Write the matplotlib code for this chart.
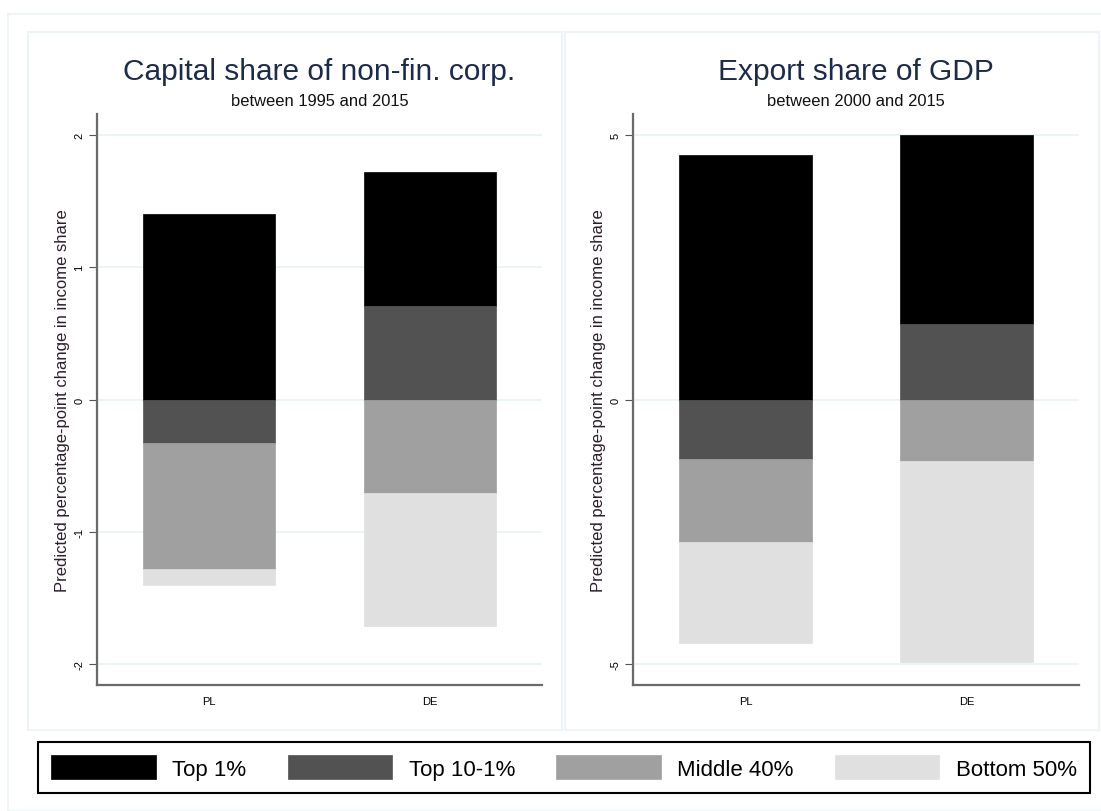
import matplotlib
matplotlib.use('Agg')
import matplotlib.pyplot as plt
from matplotlib.patches import Rectangle
import numpy as np

plt.rcParams['font.family'] = ['Liberation Sans', 'DejaVu Sans']

# datos
paises = ['PL', 'DE']
grupos = ['Top 1%', 'Top 10-1%', 'Middle 40%', 'Bottom 50%']
colores = ['#000000', '#525252', '#a0a0a0', '#e0e0e0']

capital_top1 = [1.40, 1.01]
capital_top10 = [-0.33, 0.71]
capital_middle = [-0.95, -0.71]
capital_bottom = [-0.12, -1.00]

export_top1 = [4.63, 3.59]
export_top10 = [-1.13, 1.42]
export_middle = [-1.57, -1.17]
export_bottom = [-1.91, -3.80]

paneles = [
    ('Capital share of non-fin. corp.', 'between 1995 and 2015',
     [capital_top1, capital_top10, capital_middle, capital_bottom],
     [-2, -1, 0, 1, 2], 2.16),
    ('Export share of GDP', 'between 2000 and 2015',
     [export_top1, export_top10, export_middle, export_bottom],
     [-5, 0, 5], 5.40),
]

W, H = 1101, 812
fig = plt.figure(figsize=(W / 100, H / 100), dpi=100)

def fx(px):
    return px / W

def fy(py):
    return 1 - py / H

# marcos de los paneles
fig.patches.append(Rectangle((fx(8), fy(812)), fx(1101), fy(15) - fy(812),
                             transform=fig.transFigure, fill=False,
                             edgecolor='#eef3f5', linewidth=1.5))
for x0, x1 in [(28, 562), (565, 1099)]:
    fig.patches.append(Rectangle((fx(x0), fy(731)), fx(x1 - x0), fy(33) - fy(731),
                                 transform=fig.transFigure, fill=False,
                                 edgecolor='#eef3f5', linewidth=1.5))

ejes_x = [(97, 542), (633, 1079)]
handles = []
for (titulo, sub, series, ticks, lim), (x0, x1) in zip(paneles, ejes_x):
    ax = fig.add_axes([fx(x0), fy(686), fx(x1 - x0), fy(115) - fy(686)])
    pos = np.arange(len(paises))
    n = len(series)

    # negativos se apilan hacia abajo en orden, positivos hacia arriba en orden inverso
    abajo = np.zeros(len(paises))
    bases = [None] * n
    for i in range(n):
        v = np.array(series[i])
        bases[i] = np.where(v < 0, abajo, 0.0)
        abajo = abajo + np.where(v < 0, v, 0)
    arriba = np.zeros(len(paises))
    for i in reversed(range(n)):
        v = np.array(series[i])
        bases[i] = np.where(v >= 0, arriba, bases[i])
        arriba = arriba + np.where(v >= 0, v, 0)

    handles = []
    for i in range(n):
        b = ax.bar(pos, series[i], bottom=bases[i], width=0.6, color=colores[i],
                   edgecolor=colores[i], linewidth=0.5, label=grupos[i], zorder=3)
        handles.append(b)

    ax.set_xlim(-0.51, 1.51)
    ax.set_ylim(-lim, lim)
    ax.set_xticks(pos)
    ax.set_xticklabels(paises, fontsize=8)
    ax.set_yticks(ticks)
    ax.set_yticklabels([str(t) for t in ticks], fontsize=8, rotation=90, va='center')
    ax.tick_params(axis='x', length=0, pad=8)
    ax.tick_params(axis='y', length=6, color='#555555', pad=3)
    ax.grid(axis='y', color='#eaf2f3', linewidth=1.2, zorder=0)
    ax.set_axisbelow(True)
    for s in ['top', 'right']:
        ax.spines[s].set_visible(False)
    for s in ['left', 'bottom']:
        ax.spines[s].set_color('#6a6a6a')
        ax.spines[s].set_linewidth(1.6)
    ax.set_ylabel('Predicted percentage-point change in income share',
                  fontsize=12, color='#2a1f2a', labelpad=3)

    cx = (x0 + x1) / 2
    fig.text(fx(cx), fy(72), titulo, ha='center', va='center',
             fontsize=21.5, color='#1c2b4a')
    fig.text(fx(cx), fy(101), sub, ha='center', va='center',
             fontsize=11.9, color='#111111')

leg = fig.legend(handles, grupos, loc='lower left', ncol=4, mode='expand',
                 bbox_to_anchor=(fx(38), fy(794), fx(1090 - 38), fy(742) - fy(794)),
                 fontsize=16, handlelength=4.7, handleheight=1.3,
                 handletextpad=0.75, borderpad=0.6, fancybox=False,
                 framealpha=1, edgecolor='black', borderaxespad=0)
leg.get_frame().set_linewidth(1.5)

fig.savefig('out.png', dpi=100)
